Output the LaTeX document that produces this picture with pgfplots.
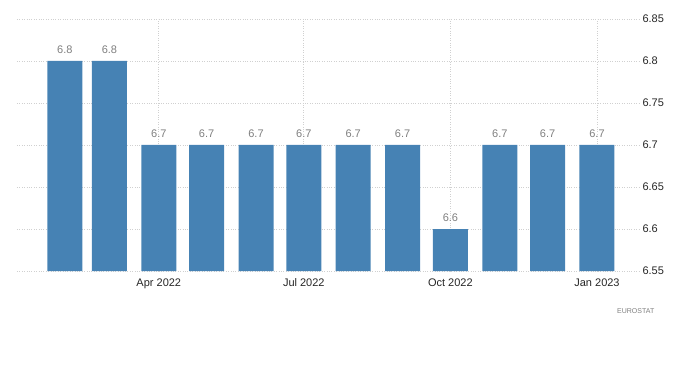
\documentclass[border=0pt]{standalone}
\usepackage{fontspec}
\setmainfont{Liberation Sans}
\usepackage{pgfplots}
\pgfplotsset{compat=1.18}
\definecolor{barblue}{HTML}{4682B4}
\definecolor{gridgray}{HTML}{D0D0D0}
\definecolor{lblgray}{HTML}{7F7F7F}
\begin{document}
\begin{tikzpicture}[x=1pt,y=1pt]
\useasboundingbox (0,0) rectangle (700,364);
\begin{axis}[
  at={(17pt,93pt)}, anchor=south west,
  scale only axis, width=623pt, height=252pt,
  xmin=1, xmax=392,
  ymin=6.55, ymax=6.85,
  ytick={6.55,6.6,6.65,6.7,6.75,6.8,6.85},
  yticklabels={6.55,6.6,6.65,6.7,6.75,6.8,6.85},
  yticklabel pos=right,
  y tick label style={anchor=west, xshift=-1pt},
  xtick={90,181,273,365},
  xticklabels={Apr 2022,Jul 2022,Oct 2022,Jan 2023},
  x tick label style={yshift=0pt},
  tick label style={font=\fontsize{11}{13}\selectfont, text=black!85},
  /pgf/number format/assume math mode=true,
  axis line style={draw=none},
  major tick style={draw=none},
  grid=major,
  major grid style={gridgray, dotted, line width=0.8pt},
  ybar, bar width=35pt,
  nodes near coords,
  nodes near coords style={font=\fontsize{11}{13}\selectfont, text=lblgray, anchor=center, yshift=11.5pt, /pgf/number format/.cd, fixed, precision=1, zerofill, assume math mode=true},
  clip=false,
]
\addplot[fill=barblue, draw=none, bar shift=0pt] coordinates {
 (31,6.8) (59,6.8) (90,6.7) (120,6.7) (151,6.7) (181,6.7)
 (212,6.7) (243,6.7) (273,6.6) (304,6.7) (334,6.7) (365,6.7)
};
\end{axis}
\node[anchor=west, text=lblgray, font=\fontsize{7}{8}\selectfont, inner sep=0pt] at (617,53) {EUROSTAT};
\end{tikzpicture}
\end{document}
